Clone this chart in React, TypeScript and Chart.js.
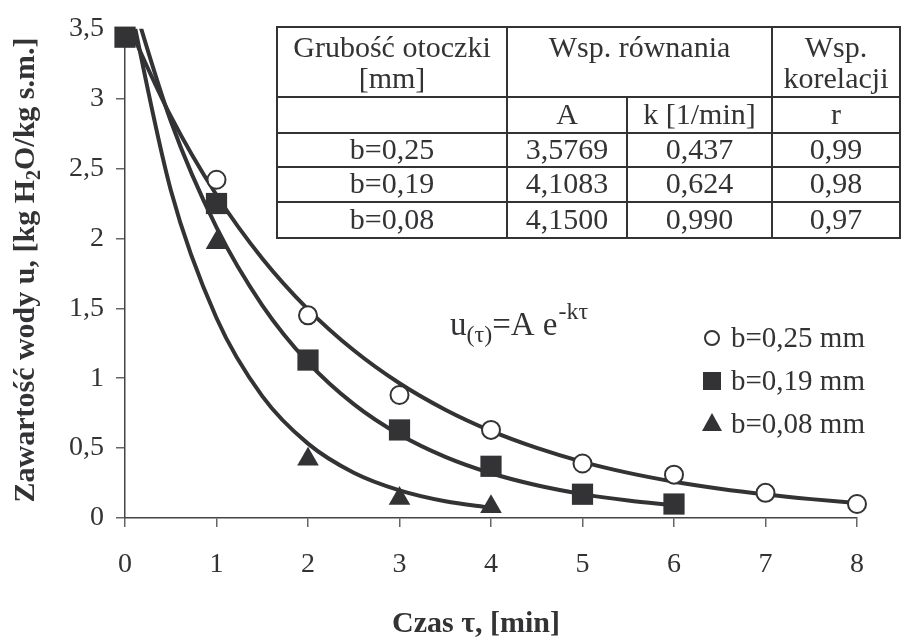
import React, { useEffect, useRef } from "react";
import { Chart, registerables } from "chart.js";

Chart.register(...registerables);

const circleTau = [1, 2, 3, 4, 5, 6, 7, 8];
const circleU = [2.42, 1.45, 0.88, 0.63, 0.39, 0.31, 0.18, 0.1];
const squareTau = [0, 1, 2, 3, 4, 5, 6];
const squareU = [3.44, 2.25, 1.13, 0.63, 0.37, 0.17, 0.1];
const triangleTau = [1, 2, 3, 4];
const triangleU = [1.97, 0.42, 0.14, 0.08];

// ---- fitted curves ----
const fitTau025 = [0, 0.5, 1, 1.5, 2, 2.5, 3, 3.5, 4, 4.5, 5, 5.5, 6, 6.5, 7, 7.5, 8];
const fitU025 = [3.577, 2.875, 2.311, 1.857, 1.493, 1.2, 0.964, 0.775, 0.623, 0.501, 0.402, 0.323, 0.26, 0.209, 0.168, 0.135, 0.108];
const fitTau019 = [0, 0.5, 1, 1.5, 2, 2.5, 3, 3.5, 4, 4.5, 5, 5.5, 6];
const fitU019 = [3.88, 2.84, 2.079, 1.522, 1.114, 0.815, 0.597, 0.437, 0.32, 0.234, 0.171, 0.125, 0.092];
const fitTau008 = [0, 0.5, 1, 1.5, 2, 2.5, 3, 3.5, 4];
const fitU008 = [3.85, 2.347, 1.431, 0.872, 0.532, 0.324, 0.198, 0.12, 0.073];

// ---- labels ----
const seriesLabels = ["b=0,25 mm", "b=0,19 mm", "b=0,08 mm"];
const xTitle = "Czas τ, [min]";
const yTitleParts = ["Zawartość wody u, [kg H", "2", "O/kg s.m.]"];
const tableHead1 = ["Grubość otoczki", "Wsp. równania", "Wsp."];
const tableHead2 = ["[mm]", "", "korelacji"];
const tableSub = ["", "A", "k [1/min]", "r"];
const tableRows = [
  ["b=0,25", "3,5769", "0,437", "0,99"],
  ["b=0,19", "4,1083", "0,624", "0,98"],
  ["b=0,08", "4,1500", "0,990", "0,97"],
];

const INK = "#333336";
const SERIF = "'Liberation Serif', 'Times New Roman', serif";

const zip = (xs: number[], ys: number[]) => xs.map((x, i) => ({ x, y: ys[i] }));

const fmt = (v: number | string) => String(v).replace(".", ",");

const annotations = {
  id: "annotations",
  afterDraw(chart: any) {
    const ctx: CanvasRenderingContext2D = chart.ctx;
    ctx.save();
    ctx.fillStyle = INK;
    ctx.strokeStyle = INK;

    // ---- table ----
    const L = 277, R = 900;
    const rows = [27, 97, 133, 167, 202, 238];
    const cols = [277, 507, 627, 772, 900];
    ctx.fillStyle = "#fff";
    ctx.fillRect(L, rows[0], R - L, rows[5] - rows[0]);
    ctx.fillStyle = INK;
    ctx.lineWidth = 2;
    ctx.strokeRect(L, rows[0], R - L, rows[5] - rows[0]);
    ctx.beginPath();
    for (let i = 1; i < 5; i++) {
      ctx.moveTo(L, rows[i]);
      ctx.lineTo(R, rows[i]);
    }
    ctx.moveTo(cols[1], rows[0]);
    ctx.lineTo(cols[1], rows[5]);
    ctx.moveTo(cols[3], rows[0]);
    ctx.lineTo(cols[3], rows[5]);
    ctx.moveTo(cols[2], rows[1]);
    ctx.lineTo(cols[2], rows[5]);
    ctx.stroke();

    ctx.font = `30px ${SERIF}`;
    ctx.textAlign = "center";
    ctx.textBaseline = "alphabetic";
    const headCenters = [(cols[0] + cols[1]) / 2, (cols[1] + cols[3]) / 2, (cols[3] + cols[4]) / 2];
    tableHead1.forEach((t, i) => ctx.fillText(t, headCenters[i], 57));
    tableHead2.forEach((t, i) => t && ctx.fillText(t, headCenters[i], 88));
    ctx.textBaseline = "middle";
    const cellCenters = [0, 1, 2, 3].map((i) => (cols[i] + cols[i + 1]) / 2);
    tableSub.forEach((t, i) => t && ctx.fillText(t, cellCenters[i], (rows[1] + rows[2]) / 2 + 1));
    tableRows.forEach((r, ri) =>
      r.forEach((t, ci) => ctx.fillText(t, cellCenters[ci], (rows[ri + 2] + rows[ri + 3]) / 2 + 1))
    );

    // ---- formula u(τ)=A e^-kτ ----
    ctx.textAlign = "left";
    ctx.textBaseline = "alphabetic";
    let fx = 450;
    ctx.font = `33px ${SERIF}`;
    ctx.fillText("u", fx, 335);
    fx += ctx.measureText("u").width;
    ctx.font = `24px ${SERIF}`;
    ctx.fillText("(τ)", fx, 342);
    fx += ctx.measureText("(τ)").width;
    ctx.font = `33px ${SERIF}`;
    ctx.fillText("=A e", fx, 335);
    fx += ctx.measureText("=A e").width;
    ctx.font = `24px ${SERIF}`;
    ctx.fillText("-kτ", fx + 1, 319);

    // ---- legend ----
    const lx = 712;
    const ly = [338, 381, 424];
    ctx.lineWidth = 2;
    ctx.beginPath();
    ctx.arc(lx, ly[0], 7, 0, Math.PI * 2);
    ctx.fillStyle = "#fff";
    ctx.fill();
    ctx.stroke();
    ctx.fillStyle = INK;
    ctx.fillRect(lx - 9, ly[1] - 9, 18, 18);
    ctx.beginPath();
    ctx.moveTo(lx, ly[2] - 11);
    ctx.lineTo(lx + 10, ly[2] + 7);
    ctx.lineTo(lx - 10, ly[2] + 7);
    ctx.closePath();
    ctx.fill();
    ctx.font = `29px ${SERIF}`;
    ctx.textBaseline = "middle";
    seriesLabels.forEach((t, i) => ctx.fillText(t, 731, ly[i] + 1));

    // ---- x title ----
    ctx.font = `bold 30px ${SERIF}`;
    ctx.textAlign = "center";
    ctx.textBaseline = "alphabetic";
    ctx.fillText(xTitle, 476, 632);

    // ---- y title (rotated, with subscript) ----
    ctx.translate(34, 270);
    ctx.rotate(-Math.PI / 2);
    ctx.textAlign = "left";
    const big = `bold 30px ${SERIF}`;
    const small = `bold 20px ${SERIF}`;
    const fonts = [big, small, big];
    const dys = [0, 6, 0];
    const widths = yTitleParts.map((t, i) => {
      ctx.font = fonts[i];
      return ctx.measureText(t).width;
    });
    let tx = -widths.reduce((a, b) => a + b, 0) / 2;
    yTitleParts.forEach((t, i) => {
      ctx.font = fonts[i];
      ctx.fillText(t, tx, dys[i]);
      tx += widths[i];
    });

    ctx.restore();
  },
};

export default function App() {
  const ref = useRef<HTMLCanvasElement>(null);

  useEffect(() => {
    const canvas = ref.current;
    if (!canvas) return;
    const curve = (data: { x: number; y: number }[], order: number) => ({
      label: "fit",
      data,
      showLine: true,
      borderColor: INK,
      borderWidth: 4,
      pointRadius: 0,
      cubicInterpolationMode: "monotone" as const,
      order,
    });
    const chart = new Chart(canvas, {
      type: "line",
      data: {
        datasets: [
          {
            label: seriesLabels[1],
            data: zip(squareTau, squareU),
            showLine: false,
            pointStyle: "rect",
            pointRadius: 15,
            backgroundColor: INK,
            borderColor: INK,
            borderWidth: 0,
            clip: false,
            order: 0,
          },
          {
            label: seriesLabels[0],
            data: zip(circleTau, circleU),
            showLine: false,
            pointStyle: "circle",
            pointRadius: 9,
            backgroundColor: "#ffffff",
            borderColor: INK,
            borderWidth: 2,
            clip: false,
            order: 1,
          },
          {
            label: seriesLabels[2],
            data: zip(triangleTau, triangleU),
            showLine: false,
            pointStyle: "triangle",
            pointRadius: 12.5,
            backgroundColor: INK,
            borderColor: INK,
            borderWidth: 0,
            clip: false,
            order: 2,
          },
          curve(zip(fitTau025, fitU025), 3),
          curve(zip(fitTau019, fitU019), 4),
          curve(zip(fitTau008, fitU008), 5),
        ] as any,
      },
      options: {
        animation: false,
        responsive: false,
        layout: { padding: { top: 27, right: 49, left: 0, bottom: 0 } },
        plugins: { legend: { display: false }, tooltip: { enabled: false } },
        scales: {
          x: {
            type: "linear",
            min: 0,
            max: 8,
            afterFit: (s: any) => {
              s.height = 124;
            },
            ticks: {
              stepSize: 1,
              color: INK,
              font: { family: SERIF, size: 28 },
              padding: 21,
              callback: (v: any) => fmt(v),
            },
            grid: { drawOnChartArea: false, drawTicks: true, tickLength: 9, color: "#666", lineWidth: 1.5 },
            border: { display: true, color: "#444", width: 1.5 },
          },
          y: {
            type: "linear",
            min: 0,
            max: 3.5,
            afterFit: (s: any) => {
              s.width = 125;
            },
            ticks: {
              stepSize: 0.5,
              color: INK,
              font: { family: SERIF, size: 28 },
              padding: 12,
              callback: (v: any) => fmt(v),
            },
            grid: { drawOnChartArea: false, drawTicks: true, tickLength: 9, color: "#666", lineWidth: 1.5 },
            border: { display: true, color: "#444", width: 1.5 },
          },
        },
      },
      plugins: [annotations],
    });
    return () => chart.destroy();
  }, []);

  return (
    <div style={{ position: "absolute", left: 0, top: 0, width: 906, height: 642, background: "#fff" }}>
      <canvas ref={ref} width={906} height={642} style={{ display: "block" }} />
    </div>
  );
}
